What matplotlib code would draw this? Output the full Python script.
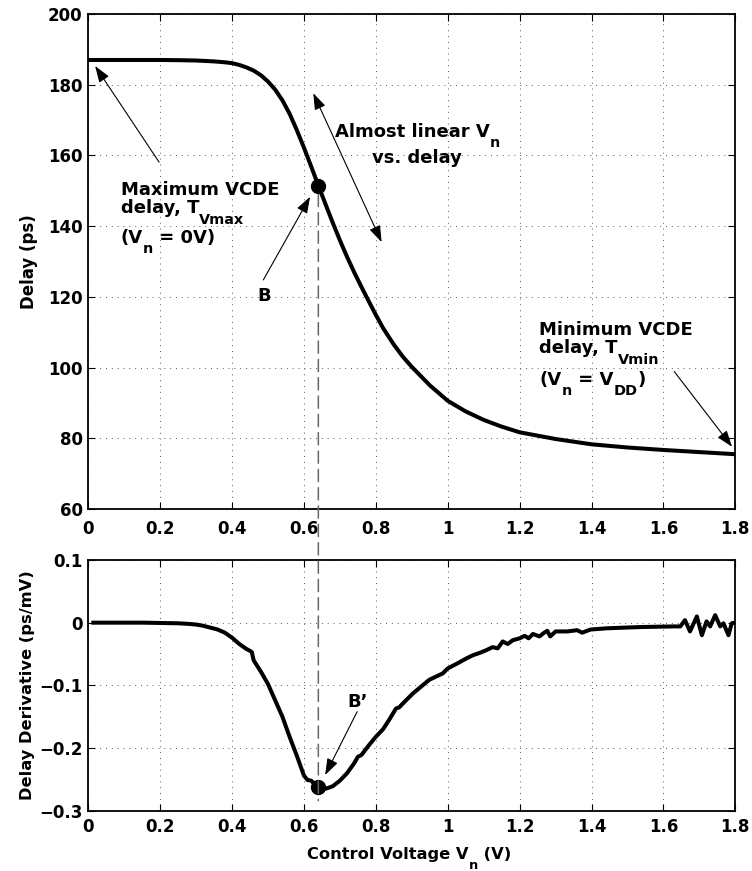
import matplotlib
matplotlib.use("Agg")
import matplotlib.pyplot as plt
from matplotlib.patches import ConnectionPatch

plt.rcParams["font.family"] = ["DejaVu Sans"]
plt.rcParams["font.weight"] = "bold"
plt.rcParams["mathtext.fontset"] = "dejavusans"
plt.rcParams["mathtext.default"] = "bf"

# ---- VCDE delay vs. control voltage ----
vn_delay = [0.00, 0.10, 0.20, 0.25, 0.30, 0.35, 0.38, 0.40, 0.42, 0.44, 0.46, 0.48, 0.50,
            0.52, 0.54, 0.56, 0.58, 0.60, 0.62, 0.64, 0.66, 0.68, 0.70, 0.72,
            0.74, 0.76, 0.78, 0.80, 0.82, 0.85, 0.875, 0.90, 0.95, 1.00, 1.05,
            1.10, 1.15, 1.20, 1.30, 1.40, 1.50, 1.60, 1.70, 1.80]
delay_ps = [187.0, 187.0, 187.0, 186.95, 186.85, 186.6, 186.35, 186.1, 185.6, 184.9, 184.0, 182.7, 180.9,
            178.6, 175.6, 171.8, 167.2, 162.2, 156.9, 151.5, 146.2, 141.0, 136.0, 131.3,
            126.9, 122.8, 118.8, 114.9, 111.2, 106.5, 103.1, 100.2, 95.0, 90.6, 87.6,
            85.2, 83.3, 81.7, 79.8, 78.3, 77.4, 76.7, 76.1, 75.5]

# ---- derivative of the delay (ps/mV) ----
deriv_vn = [0.014, 0.05, 0.10, 0.15, 0.20, 0.25, 0.28, 0.30, 0.32, 0.34, 0.36, 0.38,
            0.40, 0.42, 0.44, 0.45, 0.455, 0.46, 0.48, 0.50, 0.52, 0.54, 0.56, 0.58,
            0.60, 0.61, 0.62, 0.63, 0.64, 0.65, 0.66, 0.67, 0.68, 0.70, 0.72, 0.73,
            0.74, 0.75, 0.76, 0.78, 0.80, 0.82, 0.837, 0.856, 0.865, 0.875, 0.903,
            0.93, 0.949, 0.986, 1.00, 1.03, 1.052, 1.07, 1.09, 1.107, 1.125, 1.139,
            1.153, 1.167, 1.181, 1.20, 1.214, 1.225, 1.237, 1.255, 1.266, 1.277,
            1.285, 1.30, 1.333, 1.36, 1.374, 1.397, 1.443, 1.536, 1.628, 1.647,
            1.66, 1.674, 1.693, 1.707, 1.72, 1.73, 1.744, 1.758, 1.767, 1.781,
            1.79, 1.80]
deriv_val = [0.000, 0.000, 0.000, 0.000, -0.0005, -0.001, -0.002, -0.003, -0.005, -0.008,
             -0.011, -0.016, -0.024, -0.034, -0.042, -0.045, -0.047, -0.060, -0.078,
             -0.098, -0.124, -0.150, -0.182, -0.212, -0.244, -0.251, -0.252, -0.258,
             -0.262, -0.262, -0.265, -0.263, -0.261, -0.252, -0.240, -0.232, -0.224,
             -0.214, -0.211, -0.196, -0.182, -0.170, -0.155, -0.137, -0.135, -0.129,
             -0.113, -0.100, -0.091, -0.081, -0.073, -0.064, -0.057, -0.052, -0.048,
             -0.044, -0.039, -0.041, -0.030, -0.034, -0.028, -0.025, -0.021, -0.025,
             -0.018, -0.022, -0.017, -0.013, -0.022, -0.014, -0.014, -0.012, -0.016,
             -0.011, -0.009, -0.007, -0.006, -0.006, 0.004, -0.014, 0.010, -0.020,
             0.002, -0.006, 0.012, -0.006, -0.001, -0.020, -0.001, 0.000]

x_ticks = [0, 0.2, 0.4, 0.6, 0.8, 1.0, 1.2, 1.4, 1.6, 1.8]
x_ticklabels = ["0", "0.2", "0.4", "0.6", "0.8", "1", "1.2", "1.4", "1.6", "1.8"]
delay_ticks = [60, 80, 100, 120, 140, 160, 180, 200]
deriv_ticks = [-0.3, -0.2, -0.1, 0, 0.1]
deriv_ticklabels = ["\u22120.3", "\u22120.2", "\u22120.1", "0", "0.1"]

# operating point B (and B' on the derivative)
b_index = vn_delay.index(0.64)
b_vn = vn_delay[b_index]
b_delay = delay_ps[b_index]
bp_val = deriv_val[deriv_vn.index(0.64)]

fig = plt.figure(figsize=(7.52, 8.71), dpi=100)
ax1 = fig.add_axes([0.1174, 0.4156, 0.8604, 0.5683])
ax2 = fig.add_axes([0.1174, 0.0692, 0.8604, 0.2879])
renderer = fig.canvas.get_renderer()

SUB_SCALE = 0.8
SUB_DROP = 0.58  # in units of the main font size


def rich_text(ax, x, y, parts, size, ha="left", transform=None):
    """Draw a line of bold text whose pieces may be lowered subscripts."""
    if transform is None:
        transform = ax.transData
    widths = []
    for s, is_sub in parts:
        t = fig.text(0, 0, s, fontsize=size * SUB_SCALE if is_sub else size,
                     fontweight="bold")
        widths.append(t.get_window_extent(renderer).width)
        t.remove()
    total = sum(widths)
    cursor = 0.0 if ha == "left" else -total / 2.0
    px2pt = 72.0 / fig.dpi
    for (s, is_sub), w in zip(parts, widths):
        ax.annotate(s, xy=(x, y), xycoords=transform,
                    xytext=(cursor * px2pt, -SUB_DROP * size if is_sub else 0.0),
                    textcoords="offset points", ha="left", va="baseline",
                    fontsize=size * SUB_SCALE if is_sub else size,
                    fontweight="bold", color="black", annotation_clip=False)
        cursor += w


grid_kw = dict(color="0.35", linestyle=(0, (1, 5)), linewidth=0.7)
for ax in (ax1, ax2):
    ax.set_xlim(0, 1.8)
    ax.set_xticks(x_ticks)
    ax.set_xticklabels(x_ticklabels)
    ax.grid(True, **grid_kw)
    ax.set_axisbelow(True)
    ax.tick_params(direction="in", top=True, right=True, length=5, width=0.8,
                   labelsize=12)
    for s in ax.spines.values():
        s.set_linewidth(1.3)

ax1.tick_params(axis="x", pad=8)
ax2.tick_params(axis="x", pad=5)
ax1.tick_params(axis="y", pad=4)
ax2.tick_params(axis="y", pad=4)

# top: delay curve
ax1.set_ylim(60, 200)
ax1.set_yticks(delay_ticks)
ax1.plot(vn_delay, delay_ps, color="black", linewidth=2.9, solid_joinstyle="round")
ax1.plot([b_vn], [b_delay], "o", color="black", markersize=10)
ax1.set_ylabel("Delay (ps)", fontsize=12, fontweight="bold")
ax1.yaxis.set_label_coords(-0.077, 0.5)

# bottom: derivative curve
ax2.set_ylim(-0.3, 0.1)
ax2.set_yticks(deriv_ticks)
ax2.set_yticklabels(deriv_ticklabels)
ax2.plot(deriv_vn, deriv_val, color="black", linewidth=2.9, solid_joinstyle="round")
ax2.plot([b_vn], [bp_val], "o", color="black", markersize=10)
ax2.set_ylabel("Delay Derivative (ps/mV)", fontsize=11.7, fontweight="bold")
ax2.yaxis.set_label_coords(-0.083, 0.5)
for ax in (ax1, ax2):
    for lab in ax.get_xticklabels() + ax.get_yticklabels():
        lab.set_fontweight("bold")

rich_text(ax2, 0.496, -0.194,
          [("Control Voltage V", False), ("n", True), (" (V)", False)],
          11.7, ha="center", transform=ax2.transAxes)

# dashed guide linking B and B'
guide = ConnectionPatch(xyA=(b_vn, b_delay - 2.5), coordsA=ax1.transData,
                        xyB=(b_vn, -0.284), coordsB=ax2.transData,
                        color="0.4", linewidth=1.1, linestyle=(0, (8, 4)),
                        zorder=1)
fig.add_artist(guide)

arrow_kw = dict(arrowstyle="-|>,head_length=1.0,head_width=0.35",
                color="black", linewidth=0.8, shrinkA=0, shrinkB=0,
                mutation_scale=10)
darrow_kw = dict(arrowstyle="<|-|>,head_length=1.0,head_width=0.35",
                 color="black", linewidth=0.8, shrinkA=0, shrinkB=0,
                 mutation_scale=10)
FS = 13

# maximum delay annotation
ax1.annotate("", xy=(0.019, 185.3), xytext=(0.197, 158.1), arrowprops=arrow_kw)
rich_text(ax1, 0.09, 148.8, [("Maximum VCDE", False)], FS)
rich_text(ax1, 0.09, 143.6, [("delay, T", False), ("Vmax", True)], FS)
rich_text(ax1, 0.09, 135.3, [("(V", False), ("n", True), (" = 0V)", False)], FS)

# linear region annotation
ax1.annotate("", xy=(0.626, 177.6), xytext=(0.816, 135.5), arrowprops=darrow_kw)
rich_text(ax1, 0.9146, 165.3, [("Almost linear V", False), ("n", True)], FS, ha="center")
rich_text(ax1, 0.9146, 157.9, [("vs. delay", False)], FS, ha="center")

# point B
ax1.annotate("", xy=(0.617, 148.3), xytext=(0.487, 124.8), arrowprops=arrow_kw)
rich_text(ax1, 0.489, 118.8, [("B", False)], FS, ha="center")

# minimum delay annotation
ax1.annotate("", xy=(1.791, 77.6), xytext=(1.63, 98.9), arrowprops=arrow_kw)
rich_text(ax1, 1.255, 109.2, [("Minimum VCDE", False)], FS)
rich_text(ax1, 1.255, 104.0, [("delay, T", False), ("Vmin", True)], FS)
rich_text(ax1, 1.255, 95.1, [("(V", False), ("n", True), (" = V", False),
                             ("DD", True), (")", False)], FS)

# point B'
ax2.annotate("", xy=(0.659, -0.243), xytext=(0.748, -0.142), arrowprops=arrow_kw)
rich_text(ax2, 0.750, -0.134, [("B\u2019", False)], FS, ha="center")

fig.savefig("out.png", dpi=100)
